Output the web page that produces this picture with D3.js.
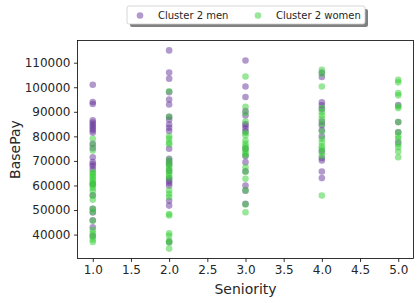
<!DOCTYPE html>
<html><head><meta charset="utf-8">
<script src="https://cdn.jsdelivr.net/npm/d3@7"></script>
<style>body{margin:0;background:#fff}svg{display:block}text{font-family:"DejaVu Sans",sans-serif;fill:#262626}</style>
</head><body>
<script>
const seniority = [1, 2, 3, 4, 5];
const menPay = [
  [101000, 94000, 93200, 86500, 85600, 84800, 84000, 83200, 82400, 81500, 77000, 75200, 71500, 69500, 68600, 67800, 66500, 60500, 56000, 50500, 49000, 45800, 43000, 39500],
  [115000, 106000, 103500, 98000, 95000, 93000, 88000, 86800, 84800, 83500, 82200, 75000, 70900, 69800, 68500, 66000, 62800, 61800, 61000, 60000, 53800, 51800, 37000],
  [110900, 100300, 96000, 90300, 88500, 85000, 84300, 83200, 82000, 75000, 72000, 69500, 65800, 60000, 57900, 52500],
  [106000, 104200, 93900, 92600, 91000, 86000, 84500, 82500, 80000, 74000, 71200, 70200, 65700, 63000],
  [92800, 85800, 81700, 77600]
];
const womenPay = [
  [79000, 76500, 74200, 65500, 64800, 64000, 63200, 62300, 61500, 60800, 60000, 59000, 57800, 55800, 54200, 50500, 49200, 45600, 41800, 40500, 39200, 38000, 37000],
  [98400, 88000, 80000, 79000, 77500, 76800, 70500, 69000, 68000, 67000, 66000, 65000, 64000, 63000, 58000, 56500, 55300, 48400, 47800, 40500, 39500, 37500, 36800, 34300],
  [104400, 92000, 89500, 86000, 81500, 80500, 78300, 77000, 76000, 75000, 74000, 73000, 72200, 67400, 65500, 62700, 58000, 52300, 49100],
  [107100, 105500, 100300, 91500, 89800, 88500, 87000, 85000, 82000, 79000, 77500, 76000, 75000, 73500, 72000, 55900],
  [103000, 102000, 97600, 96700, 92200, 91500, 85800, 81700, 80000, 79000, 76800, 75600, 73800, 71500]
];
const xTicks = [1.0, 1.5, 2.0, 2.5, 3.0, 3.5, 4.0, 4.5, 5.0];
const yTicks = [40000, 50000, 60000, 70000, 80000, 90000, 100000, 110000];
const seriesNames = ["Cluster 2 men", "Cluster 2 women"];
const seriesColors = ["rebeccapurple", "limegreen"];

const W = 419, H = 303;
const m = {left: 77.5, right: 413.5, top: 40.5, bottom: 258.5};
const svg = d3.select("body").append("svg").attr("width", W).attr("height", H);

const toPts = arr => arr.flatMap((vals, i) => vals.map(v => ({x: seniority[i], y: v})));
const men = toPts(menPay), women = toPts(womenPay);
const all = men.concat(women);
const yMin = d3.min(all, d => d.y), yMax = d3.max(all, d => d.y);
const yPad = (yMax - yMin) * 0.05;

const x = d3.scaleLinear().domain([0.8, 5.2]).range([m.left, m.right]);
const y = d3.scaleLinear().domain([yMin - yPad, yMax + yPad]).range([m.bottom, m.top]);

const r = 3.3;
[[men, 0], [women, 1]].forEach(([pts, k]) => {
  svg.append("g").selectAll("circle").data(pts).join("circle")
    .attr("cx", d => x(d.x)).attr("cy", d => y(d.y)).attr("r", r)
    .attr("fill", seriesColors[k]).attr("fill-opacity", 0.5);
});

// axes
const xAxis = svg.append("g").attr("transform", `translate(0,${m.bottom})`)
  .call(d3.axisBottom(x).tickValues(xTicks).tickFormat(d3.format(".1f")).tickSizeOuter(0).tickSize(3.5).tickPadding(3.5));
const yAxis = svg.append("g").attr("transform", `translate(${m.left},0)`)
  .call(d3.axisLeft(y).tickValues(yTicks).tickFormat(d3.format("d")).tickSizeOuter(0).tickSize(3.5).tickPadding(3.5));
[xAxis, yAxis].forEach(a => {
  a.select(".domain").remove();
  a.selectAll("line").attr("stroke", "#000").attr("stroke-width", 0.8);
  a.selectAll("text").attr("font-size", 12).attr("fill", "#262626").style("font-family", '"DejaVu Sans",sans-serif');
});
svg.append("rect").attr("x", m.left).attr("y", m.top).attr("width", m.right - m.left).attr("height", m.bottom - m.top)
  .attr("fill", "none").attr("stroke", "#000").attr("stroke-width", 0.8);

svg.append("text").attr("x", (m.left + m.right) / 2).attr("y", 294).attr("text-anchor", "middle")
  .attr("font-size", 14).text("Seniority");
svg.append("text").attr("transform", `translate(20,${(m.top + m.bottom) / 2}) rotate(-90)`).attr("text-anchor", "middle")
  .attr("font-size", 14).text("BasePay");

// legend
const lg = svg.append("g");
const lx = 127, ly = 6, lw = 238, lh = 18;
lg.append("rect").attr("x", lx + 3).attr("y", ly + 3).attr("width", lw).attr("height", lh).attr("rx", 2).attr("fill", "#808080");
lg.append("rect").attr("x", lx).attr("y", ly).attr("width", lw).attr("height", lh).attr("rx", 2)
  .attr("fill", "#fff").attr("stroke", "#ccc").attr("stroke-width", 0.8);
const legX = [140, 258];
seriesNames.forEach((n, i) => {
  lg.append("circle").attr("cx", legX[i]).attr("cy", ly + lh / 2 + 0.5).attr("r", r)
    .attr("fill", seriesColors[i]).attr("fill-opacity", 0.5);
  lg.append("text").attr("x", legX[i] + 18).attr("y", ly + lh / 2 + 3.5).attr("font-size", 10).text(n);
});
</script>
</body></html>
